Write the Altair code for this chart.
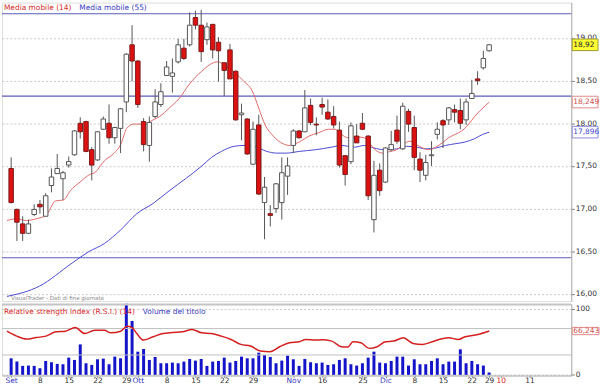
import altair as alt
import pandas as pd

# ---------------- data ----------------
opens = [17.47, 16.99, 16.82, 16.71, 16.93, 17.05, 16.91, 17.27, 17.41, 17.35,
         17.51, 17.63, 18.00, 18.02, 17.69, 17.57, 17.93, 18.00, 17.83, 17.94,
         18.25, 18.92, 18.73, 18.02, 17.74, 18.08, 18.22, 18.56, 18.55, 18.72,
         18.88, 18.92, 19.24, 19.15, 18.98, 19.16, 18.95, 18.71, 18.86, 18.61,
         18.10, 18.05, 17.52, 17.98, 17.07, 16.94, 17.00, 17.07, 17.38, 17.74,
         17.91, 17.90, 18.21, 17.99, 18.22, 18.13, 18.08, 17.92, 17.62, 17.55,
         17.85, 18.00, 17.85, 16.87, 17.45, 17.31, 17.69, 17.92, 17.70, 18.14,
         17.95, 17.58, 17.39, 17.62, 17.87, 18.03, 18.04, 18.16, 18.15, 18.04,
         18.29, 18.52, 18.65, 18.85]
highs = [17.60, 17.00, 16.91, 16.87, 17.05, 17.10, 17.18, 17.47, 17.64, 17.44,
         17.61, 17.92, 18.07, 18.03, 17.72, 17.91, 18.08, 18.22, 17.96, 18.18,
         18.82, 19.15, 18.74, 18.06, 18.08, 18.40, 18.47, 18.73, 18.76, 18.99,
         18.99, 19.30, 19.32, 19.33, 19.18, 19.16, 19.01, 18.71, 18.93, 18.62,
         18.23, 18.06, 18.02, 18.10, 17.37, 17.04, 17.30, 17.60, 17.60, 17.93,
         17.92, 18.39, 18.29, 18.07, 18.30, 18.28, 18.20, 18.02, 17.62, 18.01,
         17.99, 18.12, 17.86, 17.56, 17.53, 17.72, 17.91, 18.09, 18.24, 18.17,
         18.09, 17.66, 17.63, 17.79, 18.01, 18.05, 18.19, 18.22, 18.29, 18.29,
         18.51, 18.61, 18.85, 18.93]
lows = [17.06, 16.62, 16.62, 16.70, 16.91, 16.94, 16.91, 17.19, 17.41, 17.10,
        17.48, 17.62, 17.82, 17.66, 17.33, 17.56, 17.92, 17.76, 17.76, 17.65,
        18.13, 18.49, 18.18, 17.67, 17.55, 18.06, 18.19, 18.56, 18.36, 18.70,
        18.74, 18.90, 19.10, 18.72, 18.92, 18.76, 18.49, 18.32, 18.52, 18.03,
        17.80, 17.63, 17.51, 17.16, 16.64, 16.79, 16.95, 16.87, 17.16, 17.65,
        17.82, 17.90, 17.98, 17.86, 18.10, 18.04, 17.94, 17.48, 17.27, 17.52,
        17.77, 17.92, 17.10, 16.72, 17.15, 17.30, 17.67, 17.76, 17.69, 17.90,
        17.45, 17.31, 17.33, 17.50, 17.81, 17.71, 17.98, 18.01, 17.93, 17.98,
        18.29, 18.45, 18.63, 18.84]
closes = [17.07, 16.84, 16.71, 16.82, 16.99, 17.02, 17.15, 17.37, 17.47, 17.42,
          17.55, 17.91, 17.90, 17.67, 17.51, 17.90, 18.05, 17.83, 17.95, 18.17,
          18.81, 18.73, 18.22, 17.75, 18.01, 18.25, 18.37, 18.66, 18.59, 18.92,
          18.76, 19.15, 19.15, 18.84, 19.13, 18.86, 18.85, 18.62, 18.52, 18.04,
          18.12, 17.64, 17.93, 17.17, 17.25, 16.92, 17.29, 17.42, 17.50, 17.91,
          17.83, 18.18, 18.01, 17.98, 18.19, 18.05, 17.98, 17.51, 17.40, 17.97,
          17.77, 17.93, 17.15, 17.39, 17.21, 17.71, 17.75, 17.79, 18.20, 17.99,
          17.60, 17.45, 17.54, 17.63, 17.93, 17.98, 18.18, 18.13, 18.00, 18.25,
          18.35, 18.50, 18.76, 18.92]
volumes = [500, 400, 270, 280, 270, 200, 420, 380, 330, 320,
           520, 450, 920, 350, 300, 470, 490, 320, 550, 500,
           2150, 1630, 700, 780, 450, 540, 350, 350, 370, 350,
           400, 480, 430, 480, 270, 400, 420, 520, 370, 420,
           550, 500, 500, 670, 600, 540, 350, 430, 580, 470,
           270, 480, 380, 350, 370, 300, 320, 450, 500, 320,
           280, 350, 520, 700, 370, 350, 420, 550, 550, 280,
           470, 320, 320, 420, 500, 320, 400, 400, 770, 350,
           420, 320, 280, 70]

ma14_idx = [-0.73, 0.96, 2.66, 4.35, 6.04, 7.73, 9.09, 10.27, 11.96, 13.65,
            14.50, 16.19, 17.89, 19.02, 20.08, 21.27, 22.96, 24.65, 25.79, 27.48,
            29.17, 30.86, 31.98, 33.11, 34.80, 35.94, 37.06, 38.75, 40.44, 41.86,
            42.98, 44.11, 45.52, 47.21, 48.34, 50.03, 51.73, 53.42, 55.11, 56.24,
            57.36, 58.49, 60.19, 61.32, 62.44, 63.57, 64.70, 65.82, 66.95, 68.09,
            69.20, 70.35, 71.47, 72.60, 73.73, 74.86, 75.97, 77.11, 78.24, 79.36,
            80.49, 81.62, 83.03]
ma14_val = [16.86, 16.88, 16.86, 16.88, 16.92, 17.09, 17.10, 17.21, 17.31, 17.40,
            17.42, 17.56, 17.65, 17.75, 17.94, 17.99, 17.99, 18.04, 18.08, 18.18,
            18.29, 18.45, 18.54, 18.61, 18.70, 18.72, 18.68, 18.60, 18.49, 18.38,
            18.18, 17.98, 17.85, 17.76, 17.74, 17.78, 17.85, 17.89, 17.93, 17.93,
            17.87, 17.83, 17.84, 17.83, 17.75, 17.67, 17.65, 17.67, 17.69, 17.75,
            17.79, 17.75, 17.71, 17.69, 17.72, 17.77, 17.83, 17.87, 17.91, 17.98,
            18.08, 18.16, 18.249]

ma55_idx = [-0.73, 4.91, 10.56, 13.37, 16.19, 19.02, 21.83, 24.65, 27.48, 30.29,
            33.11, 34.80, 36.50, 38.75, 40.44, 42.13, 44.40, 46.09, 47.78, 50.03,
            52.86, 55.67, 57.36, 59.63, 61.32, 63.01, 64.70, 66.95, 68.65, 70.35,
            72.04, 73.73, 75.42, 77.11, 78.80, 80.49, 81.89, 83.03]
ma55_val = [15.97, 16.09, 16.36, 16.49, 16.59, 16.75, 16.94, 17.06, 17.21, 17.35,
            17.50, 17.60, 17.67, 17.73, 17.74, 17.73, 17.67, 17.65, 17.65, 17.67,
            17.69, 17.72, 17.74, 17.72, 17.74, 17.71, 17.69, 17.70, 17.73, 17.72,
            17.70, 17.71, 17.74, 17.76, 17.78, 17.82, 17.87, 17.896]

rsi_idx = [-0.73, 0.96, 2.66, 4.35, 6.04, 7.73, 9.42, 11.12, 12.81, 14.50,
           16.19, 17.33, 19.02, 20.14, 20.98, 21.83, 22.96, 24.65, 26.34, 28.04,
           29.73, 31.42, 33.11, 34.80, 36.50, 38.19, 39.88, 41.57, 43.27, 44.96,
           46.65, 48.34, 50.03, 51.17, 52.86, 53.98, 55.67, 57.36, 58.49, 59.34,
           60.74, 62.16, 63.57, 64.98, 66.40, 68.09, 69.78, 71.47, 73.16, 74.28,
           75.97, 77.66, 78.80, 81.05, 83.03]
rsi_val = [66, 58.5, 54, 56.4, 58.5, 65, 66, 71.4, 62.4, 67.5,
           67.5, 63.5, 66, 73.5, 71.4, 62.4, 52.5, 57.5, 62.4, 64,
           65, 68.5, 63.5, 62.4, 58.5, 53.4, 46, 43.5, 36, 35,
           42.5, 48.5, 50, 53.4, 52.5, 53, 51, 42.5, 42, 50,
           48.5, 40, 42.5, 50, 51, 56, 47.4, 46, 50, 53.4,
           56, 53.4, 57.5, 61, 66.243]

levels = [19.284, 18.318, 16.423]
price_ticks = [16.0, 16.5, 17.0, 17.5, 18.0, 18.5, 19.0]
rsi_ticks = [0, 50, 100]
rsi_bands = [70, 30]
x_tick_idx = [0, 5, 10, 15, 20, 22, 27, 32, 37, 42, 49, 54, 61, 65, 70, 75, 80, 83, 85, 90]
x_tick_lab = ["Set", "8", "15", "22", "29", "Ott", "8", "15", "22", "29", "Nov",
              "16", "25", "Dic", "8", "15", "22", "29", "10", "11"]
month_labels = ["Set", "Ott", "Nov", "Dic"]
year_label = "10"

# ---------------- layout / style ----------------
W = 574
H1 = 301
H2 = 72
FONT = "DejaVu Sans"
RED = "#d42a2a"
BLUE = "#3b3bc0"

n = len(closes)
df = pd.DataFrame({"i": list(range(n)), "o": opens, "h": highs, "l": lows,
                   "c": closes, "v": volumes})
df["zero"] = 0
ma14 = pd.DataFrame({"i": ma14_idx, "v": ma14_val})
ma55 = pd.DataFrame({"i": ma55_idx, "v": ma55_val})
rsi = pd.DataFrame({"i": rsi_idx, "v": rsi_val})
lev = pd.DataFrame({"p": levels})

xs = alt.Scale(domain=[-0.73, 96.4], nice=False, zero=False)
ys = alt.Scale(domain=[15.915, 19.415], nice=False, zero=False)

yaxis = alt.Axis(orient="right", values=price_ticks,
                 labelExpr="replace(format(datum.value, '.2f'), '.', ',')",
                 grid=True, gridDash=[2, 2], gridColor="#c8c8c8",
                 domainColor="#b0b0b0", tickColor="#777", tickSize=3,
                 labelPadding=1, labelFontSize=7.5, labelColor="#333",
                 labelFont=FONT, title=None)

X = alt.X("i:Q", scale=xs, axis=None)

grid_base = alt.Chart(df).mark_rule(opacity=0).encode(
    x=X, y=alt.Y("c:Q", scale=ys, axis=yaxis))

levels_layer = alt.Chart(lev).mark_rule(color="#5b5bb8", strokeWidth=1.2).encode(
    y=alt.Y("p:Q", scale=ys))

ma55_line = alt.Chart(ma55).mark_line(color="#4a4ad0", strokeWidth=1, interpolate="monotone").encode(
    x=X, y=alt.Y("v:Q", scale=ys))
ma14_line = alt.Chart(ma14).mark_line(color="#e06a6a", strokeWidth=1, interpolate="monotone").encode(
    x=X, y=alt.Y("v:Q", scale=ys))

wicks = alt.Chart(df).mark_rule(color="#555555", strokeWidth=1).encode(
    x=X, y=alt.Y("l:Q", scale=ys), y2="h:Q")

up = "datum.c >= datum.o"
bodies = alt.Chart(df).mark_bar(size=4.5, strokeWidth=1).encode(
    x=X, y=alt.Y("o:Q", scale=ys), y2="c:Q",
    fill=alt.condition(up, alt.value("#ffffff"), alt.value("#dd1111")),
    stroke=alt.condition(up, alt.value("#555555"), alt.value("#7a1a1a")))

# last value boxes
last = pd.DataFrame({
    "val": [closes[-1], ma14_val[-1], ma55_val[-1]],
    "lab": ["18,92", "18,249", "17,896"],
    "fill": ["#ffff33", "#ffffff", "#ffffff"],
    "stroke": ["#999933", "#e08a8a", "#8a8ae0"],
    "tcol": ["#222222", "#d05050", "#4a4ad0"],
})
last["lo"] = last["val"] - 0.068
last["hi"] = last["val"] + 0.068
last_rect = alt.Chart(last).mark_rect(strokeWidth=1).encode(
    x=alt.value(W + 1), x2=alt.value(W + 27),
    y=alt.Y("lo:Q", scale=ys), y2="hi:Q",
    fill=alt.Fill("fill:N", scale=None), stroke=alt.Stroke("stroke:N", scale=None))
last_text = alt.Chart(last).mark_text(align="left", baseline="middle", font=FONT, fontSize=7.5, dx=0).encode(
    x=alt.value(W + 2), y=alt.Y("val:Q", scale=ys), text="lab:N",
    color=alt.Color("tcol:N", scale=None))

titles = pd.DataFrame({"t": ["Media mobile (14)", "Media mobile (55)"],
                       "col": [RED, BLUE], "px": [2, 78]})
title_text = alt.Chart(titles).mark_text(align="left", baseline="middle", font=FONT, fontSize=7.5).encode(
    x=alt.X("px:Q", scale=None), y=alt.value(5), text="t:N", color=alt.Color("col:N", scale=None))

vt = alt.Chart(pd.DataFrame({"t": ["VisualTrader - Dati di fine giornata"]})).mark_text(
    align="left", baseline="middle", font=FONT, fontSize=5.5, color="#888").encode(
    x=alt.value(9), y=alt.value(H1 - 3), text="t:N")

main = alt.layer(grid_base, levels_layer, ma55_line, ma14_line, wicks, bodies,
                 last_rect, last_text, title_text, vt).properties(width=W, height=H1)

# ---------------- lower panel ----------------
rs = alt.Scale(domain=[-1, 107], nice=False, zero=False)
vs = alt.Scale(domain=[-20, 2140], nice=False, zero=False)

label_arr = "[" + ",".join("'" + s + "'" for s in x_tick_lab) + "]"
idx_arr = "[" + ",".join(str(v) for v in x_tick_idx) + "]"
month_idx = "[" + ",".join(str(x_tick_idx[x_tick_lab.index(m)]) for m in month_labels) + "]"
year_idx = x_tick_idx[len(x_tick_lab) - 1 - x_tick_lab[::-1].index(year_label)]
xaxis = alt.Axis(values=x_tick_idx,
                 labelExpr=label_arr + "[indexof(" + idx_arr + ", datum.value)]",
                 labelFont=FONT, labelFontSize=7.5, labelPadding=-1,
                 labelColor={"condition": [
                     {"test": "datum.value == %d" % year_idx, "value": "#d42020"},
                     {"test": "indexof(" + month_idx + ", datum.value) >= 0", "value": "#3b3bc0"}],
                     "value": "#333333"},
                 tickSize=2, tickColor="#999", domainColor="#b0b0b0", grid=False, title=None,
                 labelFlush=False, labelOverlap=False)

raxis = alt.Axis(orient="right", values=rsi_ticks, grid=True, gridDash=[2, 2], gridColor="#c8c8c8",
                 domainColor="#b0b0b0", tickColor="#777", tickSize=3, labelPadding=1,
                 labelFontSize=7.5, labelColor="#333", labelFont=FONT, title=None)

XL = alt.X("i:Q", scale=xs, axis=xaxis)

rsi_base = alt.Chart(df).mark_rule(opacity=0).encode(
    x=XL, y=alt.Y("zero:Q", scale=rs, axis=raxis))

bands = alt.Chart(pd.DataFrame({"b": rsi_bands})).mark_rule(color="#c0c0c0", strokeWidth=1).encode(
    y=alt.Y("b:Q", scale=rs))

vol = alt.Chart(df).mark_bar(size=3, color="#1414c8").encode(
    x=XL, y=alt.Y("v:Q", scale=vs, axis=None), y2="zero:Q")

rsi_line = alt.Chart(rsi).mark_line(color="#d42020", strokeWidth=1.5, interpolate="monotone").encode(
    x=XL, y=alt.Y("v:Q", scale=rs))

sep = alt.Chart(pd.DataFrame({"a": [0]})).mark_rule(color="#c4c4c4", strokeWidth=2).encode(
    x=alt.value(0), x2=alt.value(W), y=alt.value(0.5))

rlast = pd.DataFrame({"val": [rsi_val[-1]], "lab": ["66,243"]})
rlast["lo"] = rlast["val"] - 5.5
rlast["hi"] = rlast["val"] + 5.5
rlast_rect = alt.Chart(rlast).mark_rect(fill="#ffffff", stroke="#e08a8a", strokeWidth=1).encode(
    x=alt.value(W + 1), x2=alt.value(W + 28), y=alt.Y("lo:Q", scale=rs), y2="hi:Q")
rlast_text = alt.Chart(rlast).mark_text(align="left", baseline="middle", font=FONT, fontSize=7.5,
                                        color="#d05050").encode(
    x=alt.value(W + 2), y=alt.Y("val:Q", scale=rs), text="lab:N")

ltitles = pd.DataFrame({"t": ["Relative strength index (R.S.I.) (14)", "Volume del titolo"],
                        "col": [RED, BLUE], "px": [2, 142]})
ltitle_text = alt.Chart(ltitles).mark_text(align="left", baseline="middle", font=FONT, fontSize=7.5).encode(
    x=alt.X("px:Q", scale=None), y=alt.value(8), text="t:N", color=alt.Color("col:N", scale=None))

vol_layer = alt.layer(vol)
rsi_layer = alt.layer(rsi_base, bands, rsi_line, sep, rlast_rect, rlast_text, ltitle_text)
lower = alt.layer(vol_layer, rsi_layer).resolve_scale(y="independent").properties(width=W, height=H2)

chart = alt.vconcat(main, lower, spacing=1).properties(
    padding={"left": 0, "top": 0, "right": 0, "bottom": 0}
).configure_view(stroke=None).configure(background="white")

chart.save("out.html", embed_options={"renderer": "svg", "actions": False})
